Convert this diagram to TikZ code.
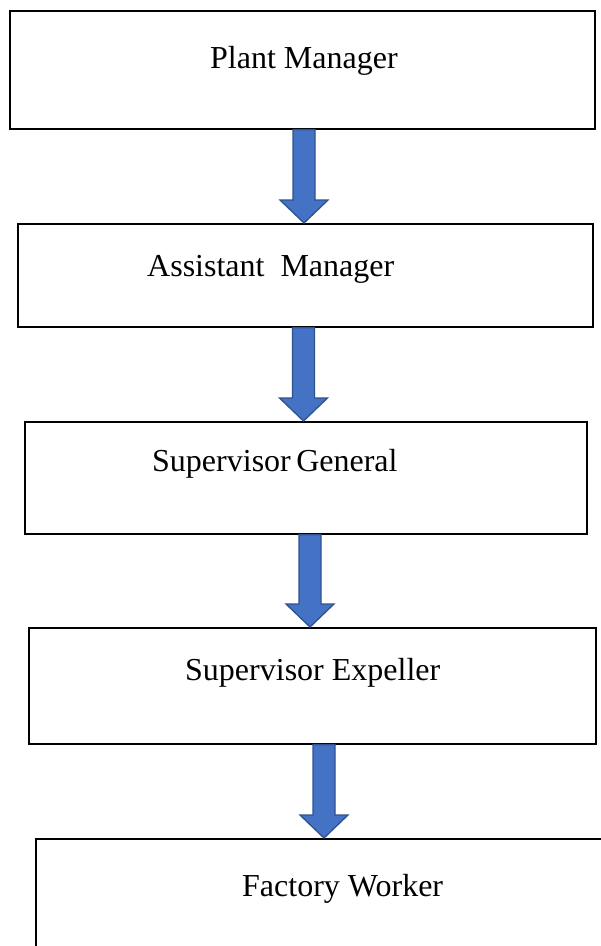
\documentclass[tikz,border=0pt]{standalone}
\usepackage{fontspec}
\setmainfont{Liberation Serif}
\usetikzlibrary{calc}
\definecolor{arrowfill}{HTML}{4472C4}
\definecolor{arrowedge}{HTML}{2F528F}
\tikzset{
  rolebox/.style={draw=black, line width=1.6pt, fill=white, rectangle, inner sep=0pt, anchor=north west},
  roletext/.style={inner sep=0pt, anchor=base west, font=\fontsize{32}{38}\selectfont},
  blockarr/.style={fill=arrowfill, draw=arrowedge, line width=1.3pt, line join=miter}
}
% block arrow from the bottom of node #1 to the top of node #2, centred on x = #3
\newcommand\blockarrow[3]{%
  \draw[blockarr] let \p1=(#1.south), \p2=(#2.north) in
    (#3-11pt,\y1) -- (#3+11pt,\y1) -- (#3+11pt,\y2+23pt) -- (#3+24pt,\y2+23pt)
    -- (#3,\y2) -- (#3-24pt,\y2+23pt) -- (#3-11pt,\y2+23pt) -- cycle;}
\begin{document}
\begin{tikzpicture}[x=1pt,y=1pt]
\useasboundingbox (0,0) rectangle (601,-946);
\clip (0,0) rectangle (601,-946);
\fill[white] (0,0) rectangle (601,-946);

% role boxes
\node[rolebox, minimum width=585pt, minimum height=118pt] (b1) at (9,-10) {};
\node[rolebox, minimum width=575pt, minimum height=103pt] (b2) at (17,-223) {};
\node[rolebox, minimum width=562pt, minimum height=112pt] (b3) at (24,-421) {};
\node[rolebox, minimum width=567pt, minimum height=116pt] (b4) at (28,-627) {};
\node[rolebox, minimum width=600pt, minimum height=160pt] (b5) at (35,-838) {};

% labels
\node[roletext] (t1) at (210,-68) {Plant Manager};
\node[roletext] (t2) at (147,-276) {Assistant\ \ Manager};
\node[roletext] (t3) at (152,-471) {Supervisor\hspace{0.17em}General};
\node[roletext] (t4) at (185,-680) {Supervisor Expeller};
\node[roletext] (t5) at (242,-896) {Factory Worker};

% connectors
\blockarrow{b1}{b2}{304pt}
\blockarrow{b2}{b3}{303.5pt}
\blockarrow{b3}{b4}{310pt}
\blockarrow{b4}{b5}{324pt}
\end{tikzpicture}
\end{document}
